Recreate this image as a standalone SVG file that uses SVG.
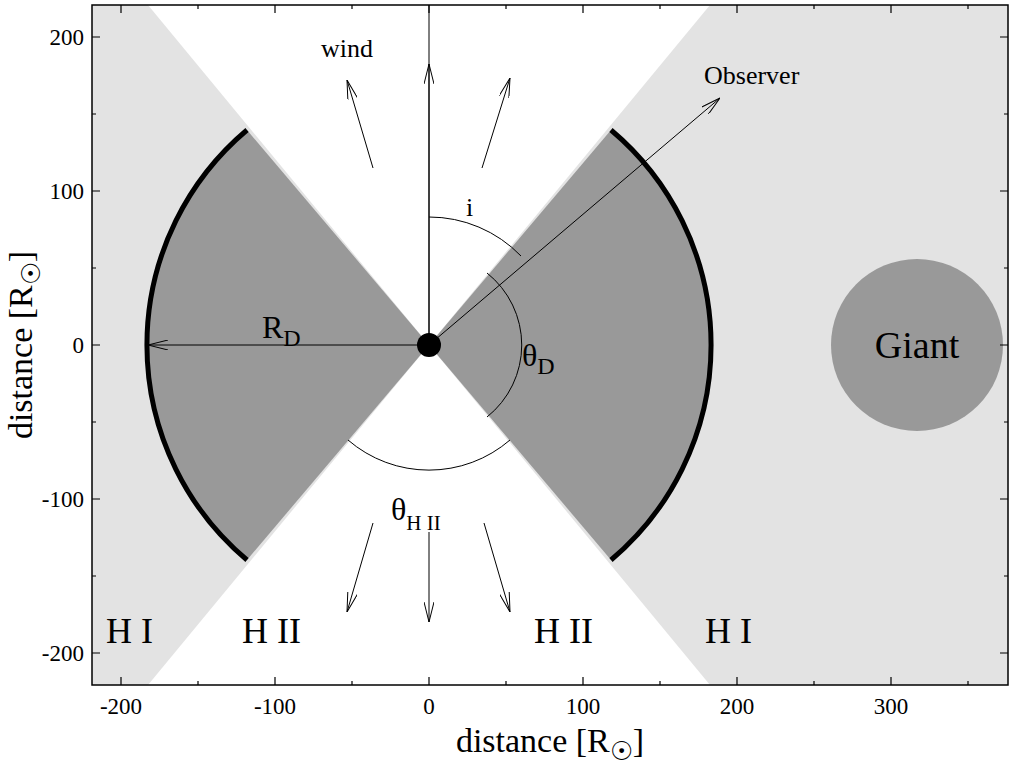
<svg xmlns="http://www.w3.org/2000/svg" width="1014" height="766" viewBox="0 0 1014 766">
<defs>
<marker id="ah" viewBox="0 0 20 10" refX="20" refY="5" markerWidth="20" markerHeight="10" markerUnits="userSpaceOnUse" orient="auto"><path d="M0,0 L20,5 L0,10" fill="none" stroke="#000" stroke-width="1"/></marker>
<clipPath id="c"><rect x="92" y="5" width="916" height="680"/></clipPath>
<style>
.t{font-family:"Liberation Serif",serif;fill:#000}
.l{stroke:#000;stroke-width:1;fill:none}
</style>
</defs>
<rect width="1014" height="766" fill="#fff"/>
<g clip-path="url(#c)">
<rect x="92" y="5" width="916" height="680" fill="#e3e3e3"/>
<polygon points="429,345 148,5 710,5" fill="#fff"/>
<polygon points="429,345 148,685 710,685" fill="#fff"/>
<path d="M429,345 L247,130 A281,281 0 0 0 247,560 Z" fill="#999"/>
<path d="M429,345 L611,130 A281,281 0 0 1 611,560 Z" fill="#999"/>
<path d="M247,130 A281,281 0 0 0 247,560" fill="none" stroke="#000" stroke-width="5"/>
<path d="M611,130 A281,281 0 0 1 611,560" fill="none" stroke="#000" stroke-width="5"/>
<circle cx="917" cy="345" r="86" fill="#999"/>
</g>
<g id="connectors" class="l">
<line x1="429" y1="345" x2="429" y2="5"/>
<line x1="429" y1="345" x2="429" y2="64" marker-end="url(#ah)"/>
<line x1="429" y1="345" x2="720" y2="98" marker-end="url(#ah)"/>
<line x1="429" y1="345" x2="148" y2="345" marker-end="url(#ah)"/>
<line x1="373" y1="168" x2="347" y2="80" marker-end="url(#ah)"/>
<line x1="482" y1="168" x2="510" y2="78" marker-end="url(#ah)"/>
<line x1="373" y1="523" x2="347" y2="612" marker-end="url(#ah)"/>
<line x1="429" y1="532" x2="429" y2="622" marker-end="url(#ah)"/>
<line x1="484" y1="523" x2="510" y2="612" marker-end="url(#ah)"/>
<path d="M429,217 A128,128 0 0 1 521,256"/>
<path d="M487,273 A92,92 0 0 1 487,417"/>
<path d="M348,440 A124,124 0 0 0 510,440"/>
</g>
<circle cx="429" cy="345" r="12" fill="#000"/>
<g class="t" font-size="26">
<text x="321" y="57">wind</text>
<text x="704" y="84">Observer</text>
<text x="466" y="216">i</text>
<text x="262" y="338" font-size="32">R<tspan font-size="24" dy="8">D</tspan></text>
<text x="522" y="366" font-size="32">θ<tspan font-size="24" dy="8">D</tspan></text>
<text x="391" y="520" font-size="32">θ<tspan font-size="21" dy="10">H II</tspan></text>
<text x="917" y="358" font-size="38" text-anchor="middle">Giant</text>
<text x="106" y="643" font-size="36">H I</text>
<text x="242" y="643" font-size="36">H II</text>
<text x="534" y="643" font-size="36">H II</text>
<text x="705" y="643" font-size="36">H I</text>
</g>
<rect x="92" y="5" width="916" height="680" fill="none" stroke="#000" stroke-width="1.5"/>
<g stroke="#000" stroke-width="1.2">
<path d="M121,685v-8M275,685v-8M429,685v-8M583,685v-8M737,685v-8M891,685v-8M121,5v8M275,5v8M429,5v8M583,5v8M737,5v8M891,5v8"/>
<path d="M198,685v-4M352,685v-4M506,685v-4M660,685v-4M814,685v-4M968,685v-4M198,5v4M352,5v4M506,5v4M660,5v4M814,5v4M968,5v4"/>
<path d="M92,37h8M92,191h8M92,345h8M92,499h8M92,653h8M1008,37h-8M1008,191h-8M1008,345h-8M1008,499h-8M1008,653h-8"/>
<path d="M92,114h4M92,268h4M92,422h4M92,576h4M1008,114h-4M1008,268h-4M1008,422h-4M1008,576h-4"/>
</g>
<g class="t" font-size="23">
<g text-anchor="middle">
<text x="121" y="714">-200</text><text x="275" y="714">-100</text><text x="429" y="714">0</text><text x="583" y="714">100</text><text x="737" y="714">200</text><text x="891" y="714">300</text>
</g>
<g text-anchor="end">
<text x="84" y="45">200</text><text x="84" y="199">100</text><text x="84" y="353">0</text><text x="84" y="507">-100</text><text x="84" y="661">-200</text>
</g>
<text x="550" y="752" font-size="34" text-anchor="middle">distance [R<tspan font-size="26" dy="8">☉</tspan><tspan dy="-8">]</tspan></text>
<text transform="translate(32,345) rotate(-90)" font-size="34" text-anchor="middle">distance [R<tspan font-size="26" dy="8">☉</tspan><tspan dy="-8">]</tspan></text>
</g>
</svg>
